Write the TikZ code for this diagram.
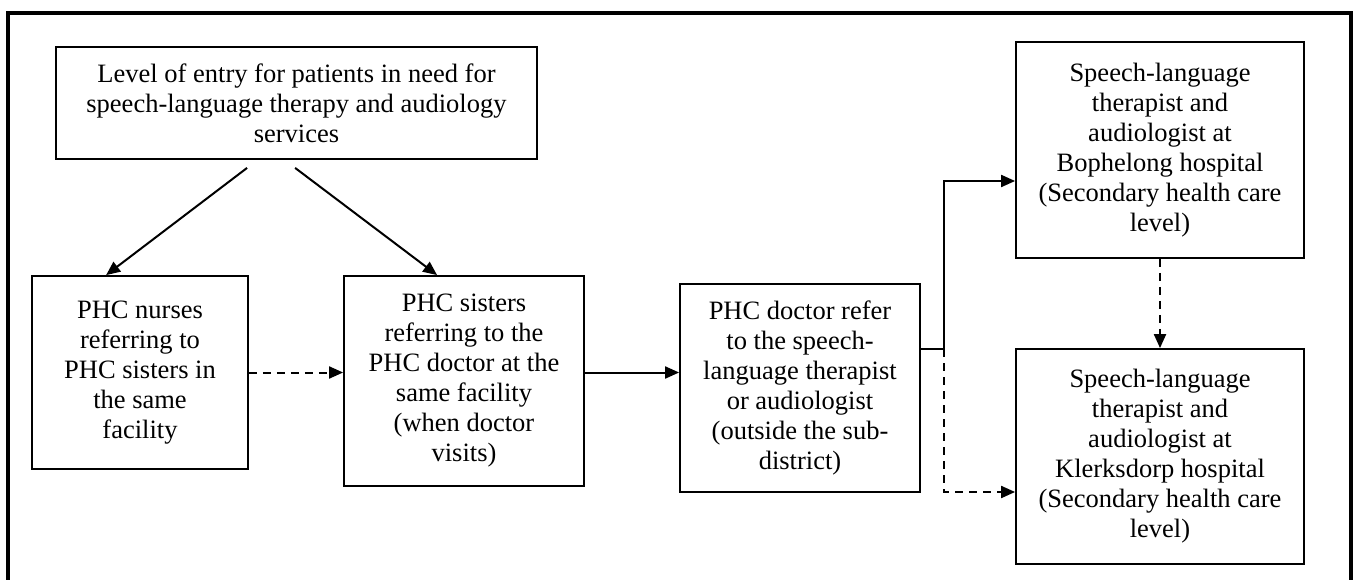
\documentclass[tikz,border=0pt]{standalone}
\usepackage{fontspec}
\setmainfont{Liberation Serif}
\usetikzlibrary{arrows.meta}

\tikzset{
  flowbox/.style={draw, line width=1.8pt, rectangle, align=center, inner sep=0pt,
    font=\fontsize{26.5}{30}\selectfont},
  link/.style={line width=2pt, -{Triangle[length=14pt,width=12pt]}},
  plainlink/.style={line width=2pt},
  dlink/.style={link, dash pattern=on 8pt off 6pt},
}

\begin{document}
\begin{tikzpicture}[x=1pt, y=-1pt]
  \useasboundingbox (0,0) rectangle (1355,580);
  \clip (0,0) rectangle (1355,580);

  % outer frame (its lower edge runs off the page)
  \draw[line width=4pt] (8,13) rectangle (1351,640);

  % boxes
  \node[flowbox, minimum width=481pt, minimum height=112pt] (entry) at (296.5,103)
    {Level of entry for patients in need for\\speech-language therapy and audiology\\services};
  \node[flowbox, minimum width=216pt, minimum height=193pt] (nurses) at (140,372.5)
    {PHC nurses\\referring to\\PHC sisters in\\the same\\facility};
  \node[flowbox, minimum width=240pt, minimum height=210pt] (sisters) at (464,381)
    {PHC sisters\\referring to the\\PHC doctor at the\\same facility\\(when doctor\\visits)};
  \node[flowbox, minimum width=240pt, minimum height=208pt] (doctor) at (800,388)
    {PHC doctor refer\\to the speech-\\language therapist\\or audiologist\\(outside the sub-\\district)};
  \node[flowbox, minimum width=288pt, minimum height=216pt] (boph) at (1160,150)
    {Speech-language\\therapist and\\audiologist at\\Bophelong hospital\\(Secondary health care\\level)};
  \node[flowbox, minimum width=288pt, minimum height=215pt] (klerk) at (1160,456.5)
    {Speech-language\\therapist and\\audiologist at\\Klerksdorp hospital\\(Secondary health care\\level)};

  % connectors
  \draw[link] ([xshift=192pt,yshift=-8pt]entry.south west) -- ([xshift=75pt]nurses.north west);
  \draw[link] ([xshift=240pt,yshift=-8pt]entry.south west) -- ([xshift=94pt]sisters.north west);
  \draw[dlink] (nurses.east) -- (nurses.east -| sisters.west);
  \draw[link] (nurses.east -| sisters.east) -- (nurses.east -| doctor.west);

  \coordinate (branch) at (944,349);
  \draw[plainlink] (branch -| doctor.east) -- (branch);
  \draw[link] (branch) |- ([yshift=-31pt]boph.west);
  \draw[dlink] (branch) |- ([yshift=-35.5pt]klerk.west);
  \draw[dlink] (boph.south) -- (klerk.north);
\end{tikzpicture}
\end{document}
